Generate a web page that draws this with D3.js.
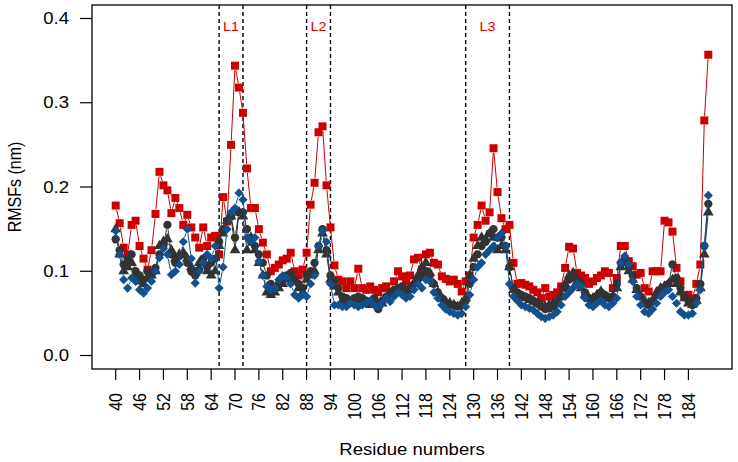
<!DOCTYPE html>
<html><head><meta charset="utf-8">
<script src="https://cdn.jsdelivr.net/npm/d3@7"></script>
<style>body{margin:0;background:#fff} svg{display:block} text{font-family:"Liberation Sans",Arial,Helvetica,sans-serif}</style>
</head><body><svg id="c" width="738" height="462"></svg>
<script>
const firstResidue = 40;
const xTicks = [40,46,52,58,64,70,76,82,88,94,100,106,112,118,124,130,136,142,148,154,160,166,172,178,184];
const yTicks = [0.0,0.1,0.2,0.3,0.4];
const loops = [{name:"L1",from:66,to:72},{name:"L2",from:88,to:94},{name:"L3",from:128,to:139}];

const seriesRed = [
.178,.157,.128,.120,.155,.160,.130,.115,.102,.125,
.168,.218,.202,.196,.169,.187,.175,.155,.167,.152,
.140,.128,.152,.130,.140,.142,.120,.188,.159,.250,
.344,.318,.288,.222,.175,.175,.150,.134,.120,.100,
.104,.108,.113,.115,.122,.100,.095,.102,.122,.179,
.205,.265,.272,.202,.152,.107,.090,.088,.080,.088,
.080,.103,.080,.078,.082,.078,.075,.080,.082,.075,
.088,.100,.094,.088,.095,.114,.116,.102,.120,.122,
.110,.108,.094,.091,.088,.090,.085,.076,.088,.095,
.140,.155,.178,.160,.170,.246,.194,.163,.150,.155,
.110,.085,.086,.084,.082,.078,.075,.068,.080,.070,
.072,.075,.082,.104,.129,.127,.098,.095,.092,.085,
.088,.092,.095,.100,.098,.080,.092,.130,.130,.112,
.106,.096,.098,.080,.076,.100,.100,.100,.160,.158,
.147,.104,.088,.072,.072,.068,.085,.108,.279,.357];

const seriesCircle = [
.138,.125,.108,.115,.120,.100,.095,.090,.100,.098,
.104,.120,.130,.155,.120,.110,.118,.120,.110,.100,
.095,.102,.115,.105,.110,.115,.135,.150,.160,.165,
.140,.170,.170,.150,.135,.130,.120,.110,.095,.085,
.080,.085,.090,.095,.098,.090,.085,.080,.095,.100,
.110,.130,.150,.125,.095,.088,.080,.070,.068,.065,
.068,.070,.068,.065,.062,.068,.055,.065,.070,.075,
.078,.080,.082,.078,.080,.085,.090,.095,.100,.095,
.085,.075,.068,.062,.060,.060,.058,.060,.065,.085,
.105,.120,.130,.135,.145,.150,.140,.140,.130,.105,
.080,.075,.072,.070,.068,.065,.062,.058,.055,.056,
.058,.062,.070,.080,.090,.095,.090,.085,.075,.068,
.065,.070,.075,.072,.068,.070,.085,.110,.115,.105,
.095,.080,.070,.062,.060,.065,.072,.078,.080,.085,
.108,.092,.080,.070,.065,.060,.068,.085,.130,.180];

const seriesTriangle = [
.150,.120,.100,.105,.110,.095,.088,.085,.092,.095,
.100,.130,.135,.138,.125,.115,.120,.122,.115,.105,
.098,.110,.112,.100,.095,.100,.130,.145,.160,.165,
.125,.170,.165,.125,.140,.125,.110,.095,.075,.072,
.075,.080,.085,.090,.092,.088,.080,.075,.090,.095,
.100,.125,.145,.120,.090,.082,.075,.065,.063,.062,
.065,.068,.066,.062,.060,.065,.060,.062,.068,.072,
.075,.078,.080,.075,.078,.085,.095,.105,.110,.098,
.085,.075,.068,.064,.062,.060,.058,.062,.068,.095,
.115,.130,.140,.138,.145,.140,.125,.130,.125,.105,
.078,.072,.070,.068,.066,.064,.062,.060,.058,.060,
.062,.065,.072,.085,.095,.098,.088,.080,.072,.068,
.068,.072,.076,.070,.068,.070,.080,.105,.110,.100,
.090,.078,.070,.065,.062,.065,.075,.080,.082,.085,
.090,.085,.075,.068,.062,.060,.065,.080,.120,.170];

const seriesDiamond = [
.148,.120,.090,.080,.092,.088,.078,.074,.080,.088,
.100,.116,.127,.120,.096,.100,.108,.135,.150,.115,
.086,.100,.110,.120,.115,.130,.080,.105,.150,.170,
.175,.193,.185,.140,.135,.140,.112,.095,.082,.078,
.080,.090,.095,.092,.085,.072,.068,.072,.070,.085,
.095,.130,.148,.135,.085,.060,.060,.058,.058,.062,
.060,.058,.060,.062,.065,.060,.058,.062,.068,.064,
.070,.075,.072,.068,.070,.078,.085,.080,.090,.088,
.075,.068,.060,.055,.052,.050,.048,.050,.058,.072,
.090,.105,.110,.120,.125,.130,.140,.145,.130,.085,
.070,.065,.060,.058,.056,.054,.050,.046,.044,.046,
.048,.052,.060,.070,.075,.080,.085,.082,.068,.060,
.058,.062,.065,.060,.058,.062,.068,.110,.118,.108,
.088,.070,.060,.052,.050,.055,.062,.070,.075,.078,
.070,.062,.052,.048,.048,.050,.062,.078,.130,.190];

const svg = d3.select("#c");
const m = {l:92, r:732, t:5, b:369};
const sx = 1.16; // horizontal stretch of the original picture
const x = d3.scaleLinear().domain([34.04,194.96]).range([m.l,m.r]);
const y = d3.scaleLinear().domain([-0.016,0.416]).range([m.b,m.t]);

// dashed loop lines + labels
loops.forEach(L=>{
  [L.from,L.to].forEach(v=>{
    svg.append("line").attr("x1",x(v)).attr("x2",x(v)).attr("y1",m.t).attr("y2",m.b)
      .attr("stroke","#000").attr("stroke-width",1.4).attr("stroke-dasharray","4,3");
  });
  svg.append("text").attr("transform",`translate(${(x(L.from)+x(L.to))/2},31) scale(${sx},1)`)
    .attr("text-anchor","middle").attr("font-size",12.5).attr("fill","#d40000").text(L.name);
});

const series = [
  {vals:seriesRed, color:"#cc0000", sym:d3.symbolSquare, size:64, rot:0},
  {vals:seriesCircle, color:"#333333", sym:d3.symbolCircle, size:54, rot:0},
  {vals:seriesTriangle, color:"#333333", sym:d3.symbolTriangle, size:50, rot:0},
  {vals:seriesDiamond, color:"#13508f", sym:d3.symbolSquare, size:42, rot:45}
];

series.forEach(s=>{
  const pts = s.vals.map((v,i)=>[x(firstResidue+i), y(v)]);
  const g = svg.append("g");
  const gap = 4.5;
  for(let i=0;i<pts.length-1;i++){
    const [x1,y1]=pts[i],[x2,y2]=pts[i+1];
    const dx=x2-x1, dy=y2-y1, len=Math.hypot(dx,dy);
    if(len<=2*gap) continue;
    const ux=dx/len, uy=dy/len;
    g.append("line").attr("x1",x1+ux*gap).attr("y1",y1+uy*gap)
      .attr("x2",x2-ux*gap).attr("y2",y2-uy*gap)
      .attr("stroke",s.color).attr("stroke-width",1);
  }
  g.selectAll("path").data(pts).join("path")
    .attr("d", d3.symbol(s.sym, s.size)())
    .attr("transform", d=>`translate(${d[0]},${d[1]}) rotate(${s.rot})`)
    .attr("fill", s.color);
});

// box
svg.append("rect").attr("x",m.l).attr("y",m.t).attr("width",m.r-m.l).attr("height",m.b-m.t)
  .attr("fill","none").attr("stroke","#000").attr("stroke-width",1.3);

// y axis
const ya = svg.append("g");
yTicks.forEach(t=>{
  ya.append("line").attr("x1",80).attr("x2",m.l).attr("y1",y(t)).attr("y2",y(t)).attr("stroke","#000").attr("stroke-width",1.2);
  ya.append("text").attr("transform",`translate(69,${y(t)}) scale(${sx},1)`).attr("dy","0.35em").attr("text-anchor","end")
    .attr("font-size",16).text(d3.format(".1f")(t));
});
// x axis
const xa = svg.append("g");
xTicks.forEach(t=>{
  xa.append("line").attr("x1",x(t)).attr("x2",x(t)).attr("y1",m.b).attr("y2",380).attr("stroke","#000").attr("stroke-width",1.2);
  xa.append("text").attr("transform",`translate(${x(t)},393) scale(${sx},1) rotate(-90)`).attr("dy","0.35em")
    .attr("text-anchor","end").attr("font-size",16).text(t);
});

svg.append("text").attr("transform",`translate(${(m.l+m.r)/2},455) scale(${sx},1)`).attr("text-anchor","middle").attr("font-size",16).text("Residue numbers");
svg.append("text").attr("transform",`translate(21,${(m.t+m.b)/2}) scale(${sx},1) rotate(-90)`).attr("text-anchor","middle").attr("font-size",16).text("RMSFs (nm)");
</script></body></html>
